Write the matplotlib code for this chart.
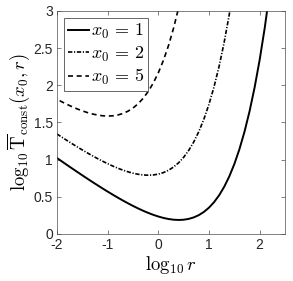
"""
Mean first-passage time under constant-rate resetting, log-log view.
"""

import matplotlib
matplotlib.use('Agg')
import matplotlib.pyplot as plt

# curve x0 = 1
x_x0_1 = [-2.0, -1.9, -1.8, -1.7, -1.6, -1.5, -1.4, -1.3, -1.2, -1.1, -1.0,
          -0.9, -0.8, -0.7, -0.6, -0.5, -0.4, -0.3, -0.2, -0.1, 0.0,
          0.1, 0.2, 0.3, 0.4, 0.5, 0.6, 0.7, 0.8, 0.9, 1.0,
          1.1, 1.2, 1.3, 1.4, 1.5, 1.6, 1.7, 1.8, 1.9, 2.0, 2.1, 2.2]
y_x0_1 = [1.0219, 0.9746, 0.9276, 0.8810, 0.8349, 0.7892, 0.7440, 0.6995, 0.6557, 0.6126, 0.5705,
          0.5293, 0.4893, 0.4506, 0.4134, 0.3778, 0.3442, 0.3128, 0.2838, 0.2578, 0.2351,
          0.2162, 0.2017, 0.1923, 0.1887, 0.1919, 0.2031, 0.2233, 0.2542, 0.2973, 0.3546,
          0.4283, 0.5208, 0.6349, 0.7737, 0.9406, 1.1394, 1.3742, 1.6496, 1.9706, 2.3429, 2.7729, 3.2674]

# curve x0 = 2
x_x0_2 = [-2.002, -1.902, -1.802, -1.702, -1.602, -1.502, -1.402, -1.302, -1.202, -1.102,
          -1.002, -0.902, -0.802, -0.702, -0.602, -0.502, -0.402, -0.302, -0.202, -0.102,
          -0.002, 0.098, 0.198, 0.298, 0.398, 0.498, 0.598, 0.698, 0.798, 0.898,
          0.998, 1.098, 1.198, 1.298, 1.398, 1.498]
y_x0_2 = [1.3460, 1.3015, 1.2577, 1.2146, 1.1725, 1.1313, 1.0913, 1.0526, 1.0154, 0.9798,
          0.9462, 0.9148, 0.8858, 0.8598, 0.8371, 0.8182, 0.8037, 0.7943, 0.7907, 0.7939,
          0.8051, 0.8253, 0.8562, 0.8993, 0.9566, 1.0303, 1.1228, 1.2369, 1.3757, 1.5426,
          1.7414, 1.9762, 2.2516, 2.5726, 2.9449, 3.3749]

# curve x0 = 5
x_x0_5 = [-2.098, -1.998, -1.898, -1.798, -1.698, -1.598, -1.498, -1.398, -1.298, -1.198,
          -1.098, -0.998, -0.898, -0.798, -0.698, -0.598, -0.498, -0.398, -0.298, -0.198,
          -0.098, 0.002, 0.102, 0.202, 0.302, 0.402]
y_x0_5 = [1.8486, 1.8114, 1.7758, 1.7422, 1.7108, 1.6818, 1.6558, 1.6331, 1.6142, 1.5997,
          1.5903, 1.5867, 1.5899, 1.6011, 1.6213, 1.6522, 1.6953, 1.7526, 1.8263, 1.9188,
          2.0329, 2.1717, 2.3386, 2.5374, 2.7722, 3.0476]

x_ticks = [-2, -1, 0, 1, 2]
y_ticks = [0, 0.5, 1, 1.5, 2, 2.5, 3]
y_tick_labels = ['0', '0.5', '1', '1.5', '2', '2.5', '3']

plt.rcParams['font.family'] = ['Liberation Sans', 'DejaVu Sans']
plt.rcParams['mathtext.fontset'] = 'cm'

AXIS_GRAY = '#4d4d4d'

fig = plt.figure(figsize=(2.93, 2.81), dpi=100)
ax = fig.add_axes([0.1945, 0.1673, 0.7782, 0.7936])

ax.plot(x_x0_1, y_x0_1, color='black', linestyle='-', linewidth=1.4, label=r'$x_0\,=\,1$')
ax.plot(x_x0_2, y_x0_2, color='black', linestyle=(0, (2.6, 1.0, 0.7, 1.0)), linewidth=1.2,
        label=r'$x_0\,=\,2$')
ax.plot(x_x0_5, y_x0_5, color='black', linestyle=(0, (3, 2.2)), linewidth=1.2,
        label=r'$x_0\,=\,5$')

ax.set_xlim(-2, 2.5)
ax.set_ylim(0, 3)
ax.set_xticks(x_ticks)
ax.set_xticklabels([str(t) for t in x_ticks])
ax.set_yticks(y_ticks)
ax.set_yticklabels(y_tick_labels)

ax.tick_params(direction='in', top=True, right=True, length=3, width=0.5,
               color=AXIS_GRAY, labelcolor='#262626', labelsize=10, pad=3)
for spine in ax.spines.values():
    spine.set_color(AXIS_GRAY)
    spine.set_linewidth(0.5)

ax.set_xlabel(r'$\log_{10} r$', fontsize=13.5, labelpad=1)
ax.set_ylabel(r'$\log_{10} \overline{\mathrm{T}}_{\mathrm{const}}(x_0, r)$', fontsize=13.5,
              labelpad=1)

leg = ax.legend(loc='upper left', fontsize=13, handlelength=1.2, handletextpad=0.1,
                borderpad=0.2, labelspacing=0.2, borderaxespad=0.4, fancybox=False,
                framealpha=1)
leg.get_frame().set_edgecolor(AXIS_GRAY)
leg.get_frame().set_linewidth(0.6)

fig.savefig('out.png', dpi=100)
